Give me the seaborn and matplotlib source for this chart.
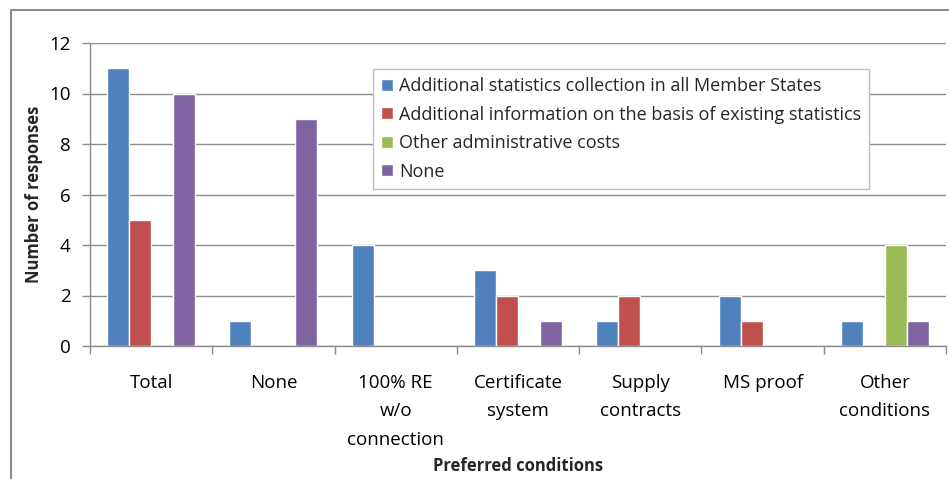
import matplotlib
matplotlib.use("Agg")
import matplotlib.pyplot as plt
import seaborn as sns
import pandas as pd
from matplotlib.patches import Rectangle
from matplotlib.ticker import FixedLocator

categories = ["Total", "None", "100% RE\nw/o\nconnection", "Certificate\nsystem",
              "Supply\ncontracts", "MS proof", "Other\nconditions"]
series = ["Additional statistics collection in all Member States",
          "Additional information on the basis of existing statistics",
          "Other administrative costs",
          "None"]
s_stats = [11, 1, 4, 3, 1, 2, 1]
s_info = [5, 0, 0, 2, 2, 1, 0]
s_admin = [0, 0, 0, 0, 0, 0, 4]
s_none = [10, 9, 0, 1, 0, 0, 1]
colors = ["#4F81BD", "#C0504D", "#9BBB59", "#8064A2"]

rows = []
for vals, name in zip([s_stats, s_info, s_admin, s_none], series):
    for c, v in zip(categories, vals):
        rows.append({"cat": c, "series": name, "value": v})
df = pd.DataFrame(rows)

sns.set_theme(style="white")
plt.rcParams['font.family'] = ['Open Sans', 'DejaVu Sans']

fig = plt.figure(figsize=(9.49, 4.79), dpi=100)
ax = fig.add_axes([90/949, 1-346/479, (946-90)/949, (346-43)/479])

sns.barplot(data=df, x="cat", y="value", hue="series", order=categories,
            hue_order=series, palette=colors, width=0.72, gap=0, saturation=1,
            ax=ax, legend=True)

grid_c = "#8C8C8C"
ax.set_ylim(0, 12)
ax.set_xlim(-0.5, len(categories)-0.5)
ax.set_yticks(range(0, 13, 2))
ax.yaxis.grid(True, color=grid_c, linewidth=1)
ax.set_axisbelow(True)
for s in ["top", "right"]:
    ax.spines[s].set_visible(False)
for s in ["left", "bottom"]:
    ax.spines[s].set_color(grid_c)
    ax.spines[s].set_linewidth(1)

ax.tick_params(axis="y", which="major", length=6, width=1, color=grid_c,
               labelsize=13.5, pad=8, left=True, labelcolor="black")
ax.tick_params(axis="x", which="major", length=0, labelsize=13.5, pad=20,
               labelcolor="black")
ax.xaxis.set_minor_locator(FixedLocator([i - 0.5 for i in range(len(categories)+1)]))
ax.tick_params(axis="x", which="minor", length=6, width=1, color=grid_c, bottom=True)
for lab in ax.get_xticklabels():
    lab.set_linespacing(1.75)
    lab.set_verticalalignment("top")

ax.set_xlabel("Preferred conditions", fontsize=12, fontweight="bold", labelpad=0)
ax.xaxis.set_label_coords(0.5, -(457-346)/303)
ax.set_ylabel("Number of responses", fontsize=12, fontweight="bold")
ax.yaxis.set_label_coords(-(90-43)/856, 0.5)

leg = ax.legend(loc="upper left", bbox_to_anchor=((373-90)/856, 1-(69-43)/303),
                frameon=True, fontsize=13, handlelength=0.65, handleheight=0.65,
                handletextpad=0.35, borderpad=0.45, labelspacing=0.58,
                fancybox=False, borderaxespad=0)
leg.get_frame().set_edgecolor("#BFBFBF")
leg.get_frame().set_linewidth(1)
leg.get_frame().set_facecolor("white")
leg.get_frame().set_alpha(1)

fig.patches.append(Rectangle((11/949, -0.1), 1.2, 1 - 10/479 + 0.1,
                             transform=fig.transFigure, fill=False,
                             edgecolor="#8C8C8C", linewidth=1.5))

fig.savefig("out.png", dpi=100)
